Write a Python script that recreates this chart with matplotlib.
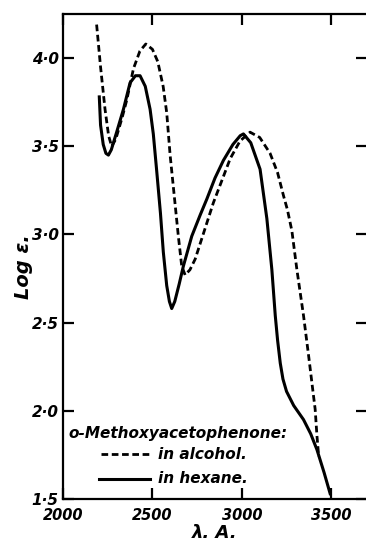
import numpy as np
import matplotlib.pyplot as plt
from matplotlib.ticker import FuncFormatter

# o-Methoxyacetophenone, values
alcohol_wl = [2188, 2210, 2235, 2255, 2272, 2295, 2330, 2356, 2394, 2430, 2463, 2500,
              2530, 2560, 2580, 2599, 2617, 2645, 2664, 2683, 2710, 2739, 2790, 2841, 2890,
              2935, 2990, 3046, 3100, 3158, 3200, 3233, 3255, 3280, 3308, 3345, 3375, 3399,
              3410, 3420, 3430]
alcohol_log = [4.19, 3.95, 3.71, 3.56, 3.50, 3.54, 3.66, 3.76, 3.94, 4.04, 4.08, 4.05,
               3.98, 3.84, 3.69, 3.45, 3.27, 2.99, 2.82, 2.77, 2.80, 2.86, 3.02, 3.18, 3.31,
               3.43, 3.53, 3.58, 3.55, 3.46, 3.35, 3.22, 3.14, 3.02, 2.80, 2.54, 2.30, 2.10,
               2.01, 1.86, 1.74]

hexane_wl = [2203, 2210, 2225, 2240, 2254, 2270, 2300, 2338, 2375, 2405, 2431, 2460,
             2487, 2505, 2524, 2545, 2561, 2580, 2595, 2608, 2625, 2650, 2673, 2720,
             2767, 2804, 2850, 2897, 2950, 2991, 3009, 3050, 3102, 3140, 3168, 3187,
             3200, 3215, 3230, 3250, 3290, 3345, 3385, 3420, 3460, 3494]
hexane_log = [3.78, 3.62, 3.51, 3.46, 3.45, 3.48, 3.58, 3.71, 3.86, 3.90, 3.90, 3.84,
              3.71, 3.57, 3.36, 3.12, 2.90, 2.71, 2.62, 2.58, 2.62, 2.72, 2.82, 2.99,
              3.11, 3.20, 3.32, 3.42, 3.51, 3.56, 3.57, 3.52, 3.37, 3.09, 2.80, 2.54,
              2.40, 2.27, 2.18, 2.11, 2.03, 1.95, 1.87, 1.78, 1.65, 1.53]

x_ticks = [2000, 2500, 3000, 3500]
y_ticks = [1.5, 2.0, 2.5, 3.0, 3.5, 4.0]

plt.rcParams['font.family'] = ['DejaVu Sans']
fig = plt.figure(figsize=(3.66, 5.42), dpi=100)
ax = fig.add_axes([63 / 366, 43 / 542, 304 / 366, 485 / 542])

ax.plot(alcohol_wl, alcohol_log, color='black', lw=2.0, ls=(0, (2.4, 1.3)))
ax.plot(hexane_wl, hexane_log, color='black', lw=2.2)

ax.set_xlim(2000, 3700)
ax.set_ylim(1.5, 4.25)
ax.set_xticks(x_ticks)
ax.set_yticks(y_ticks)
ax.yaxis.set_major_formatter(FuncFormatter(lambda v, p: ('%.1f' % v).replace('.', '\u00b7')))

for s in ax.spines.values():
    s.set_linewidth(1.6)
ax.tick_params(direction='in', length=8, width=1.6, top=True, right=True,
               labelsize=10.5, pad=3)
ax.tick_params(axis='x', pad=6.5)
ax.tick_params(axis='y', labelsize=11)
for lab in ax.get_xticklabels() + ax.get_yticklabels():
    lab.set_fontstyle('italic')
    lab.set_fontweight('bold')

ax.set_xlabel('\u03bb. A.', fontsize=13, fontstyle='italic', fontweight='bold')
ax.xaxis.set_label_coords(0.5, -0.052)
ax.set_ylabel('Log \u03b5.', fontsize=14, fontstyle='italic', fontweight='bold')
ax.yaxis.set_label_coords(-0.1, 0.48)

# hand-drawn style key in the lower left corner
ax.text(2030, 1.87, 'o-Methoxyacetophenone:', fontsize=11, fontstyle='italic', fontweight='bold',
        va='center', ha='left')
ax.plot([2210, 2485], [1.755, 1.755], color='black', lw=2.0, ls=(0, (2.4, 1.3)))
ax.text(2530, 1.755, 'in alcohol.', fontsize=11, fontstyle='italic', fontweight='bold',
        va='center', ha='left')
ax.plot([2200, 2485], [1.615, 1.615], color='black', lw=2.2)
ax.text(2530, 1.615, 'in hexane.', fontsize=11, fontstyle='italic', fontweight='bold',
        va='center', ha='left')

fig.savefig('out.png', dpi=100)
